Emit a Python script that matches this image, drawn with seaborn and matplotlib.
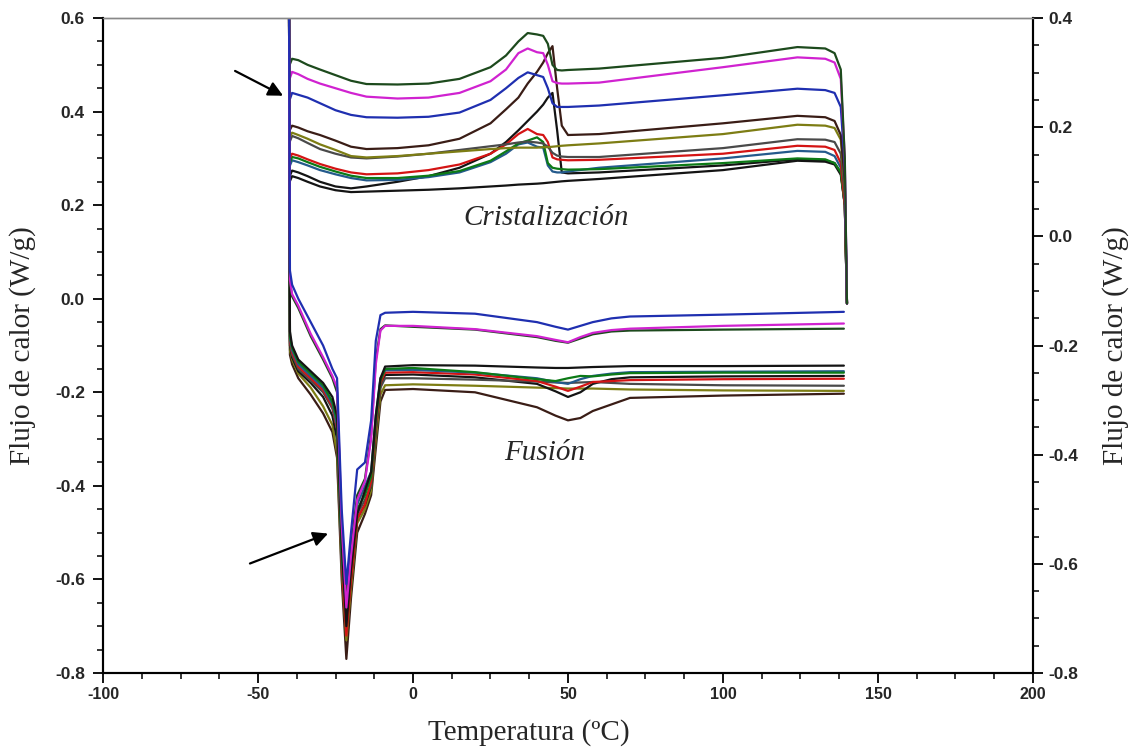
import matplotlib
matplotlib.use("Agg")
import matplotlib.pyplot as plt
from matplotlib.ticker import MultipleLocator, FormatStrFormatter
import pandas as pd
import seaborn as sns

# ---------------- data ----------------
# Cooling (crystallization) scans: temperature grid (deg C)
temp_cryst = [-39.8, -39, -37, -34, -30, -25, -20, -15, -5, 5, 15, 25, 30, 34, 37,
              40, 42, 43.5, 45, 46.5, 48, 50, 60, 100, 124, 133, 136, 138, 139.3, 140]

cryst_dark_green = [0.50, 0.513, 0.51, 0.50, 0.49, 0.478, 0.466, 0.459, 0.458, 0.46, 0.47, 0.495, 0.52, 0.55, 0.568,
                    0.565, 0.562, 0.545, 0.50, 0.489, 0.488, 0.489, 0.492, 0.515, 0.538, 0.535, 0.525, 0.49, 0.30, -0.01]
cryst_magenta = [0.47, 0.485, 0.48, 0.47, 0.46, 0.45, 0.44, 0.432, 0.428, 0.43, 0.44, 0.465, 0.49, 0.525, 0.535,
                 0.527, 0.525, 0.50, 0.465, 0.461, 0.46, 0.46, 0.462, 0.495, 0.516, 0.513, 0.505, 0.47, 0.30, -0.01]
cryst_blue = [0.425, 0.44, 0.436, 0.43, 0.418, 0.403, 0.393, 0.388, 0.387, 0.389, 0.398, 0.425, 0.45, 0.472, 0.484,
              0.478, 0.474, 0.45, 0.418, 0.41, 0.41, 0.41, 0.413, 0.435, 0.449, 0.446, 0.44, 0.41, 0.28, -0.01]
cryst_brown = [0.36, 0.37, 0.366, 0.358, 0.35, 0.338, 0.325, 0.32, 0.322, 0.328, 0.342, 0.375, 0.405, 0.43, 0.46,
               0.485, 0.505, 0.525, 0.54, 0.45, 0.37, 0.35, 0.352, 0.375, 0.391, 0.388, 0.38, 0.35, 0.25, -0.01]
cryst_olive = [0.345, 0.355, 0.35, 0.342, 0.33, 0.318, 0.305, 0.302, 0.305, 0.31, 0.315, 0.32, 0.322, 0.323, 0.323,
               0.323, 0.324, 0.324, 0.325, 0.326, 0.327, 0.328, 0.332, 0.352, 0.372, 0.37, 0.365, 0.34, 0.24, -0.01]
cryst_gray = [0.335, 0.348, 0.343, 0.333, 0.32, 0.31, 0.302, 0.30, 0.304, 0.31, 0.318, 0.326, 0.33, 0.334, 0.336,
              0.334, 0.332, 0.325, 0.312, 0.306, 0.304, 0.303, 0.303, 0.322, 0.341, 0.34, 0.335, 0.31, 0.22, -0.01]
cryst_red = [0.30, 0.31, 0.306, 0.298, 0.288, 0.278, 0.27, 0.266, 0.268, 0.275, 0.287, 0.31, 0.33, 0.352, 0.363,
             0.352, 0.35, 0.335, 0.302, 0.298, 0.297, 0.296, 0.297, 0.31, 0.327, 0.325, 0.318, 0.29, 0.20, -0.01]
cryst_green = [0.29, 0.303, 0.30, 0.292, 0.282, 0.272, 0.263, 0.258, 0.258, 0.263, 0.273, 0.295, 0.315, 0.332, 0.338,
               0.345, 0.335, 0.29, 0.28, 0.278, 0.277, 0.276, 0.277, 0.29, 0.30, 0.298, 0.29, 0.27, 0.20, -0.01]
cryst_teal = [0.283, 0.296, 0.292, 0.285, 0.275, 0.266, 0.258, 0.253, 0.254, 0.26, 0.27, 0.292, 0.31, 0.33, 0.334,
              0.325, 0.323, 0.285, 0.272, 0.27, 0.27, 0.272, 0.28, 0.30, 0.316, 0.314, 0.305, 0.28, 0.20, -0.01]
cryst_black = [0.262, 0.274, 0.27, 0.262, 0.25, 0.24, 0.236, 0.24, 0.25, 0.262, 0.28, 0.31, 0.335, 0.36, 0.38,
               0.40, 0.415, 0.43, 0.44, 0.36, 0.27, 0.268, 0.27, 0.285, 0.298, 0.296, 0.29, 0.27, 0.20, -0.01]
cryst_black_base = [0.25, 0.262, 0.258, 0.25, 0.24, 0.232, 0.228, 0.229, 0.231, 0.233, 0.236, 0.24, 0.242, 0.244, 0.245,
                    0.246, 0.247, 0.248, 0.249, 0.25, 0.251, 0.252, 0.256, 0.275, 0.295, 0.293, 0.287, 0.265, 0.20, -0.01]

# Heating (fusion) scans: temperature grid (deg C)
temp_fusion = [-40, -39.7, -39, -37, -33, -29, -26, -24.5, -23, -21.5, -20, -18, -15.5, -13.5,
               -12, -10.5, -9, 0, 20, 40, 46, 50, 54, 58, 64, 70, 100, 139]

fus_blue = [0.65, 0.06, 0.03, 0.0, -0.05, -0.10, -0.15, -0.17, -0.45, -0.61, -0.50, -0.365, -0.35, -0.26,
            -0.09, -0.035, -0.03, -0.028, -0.032, -0.05, -0.06, -0.066, -0.058, -0.05, -0.042, -0.038, -0.034, -0.028]
fus_magenta = [0.65, 0.04, 0.01, -0.015, -0.075, -0.125, -0.165, -0.19, -0.48, -0.66, -0.55, -0.43, -0.39, -0.30,
               -0.14, -0.068, -0.058, -0.058, -0.065, -0.08, -0.088, -0.093, -0.082, -0.073, -0.067, -0.064, -0.058, -0.053]
fus_dark_green = [0.65, 0.035, 0.005, -0.02, -0.08, -0.13, -0.17, -0.20, -0.50, -0.64, -0.53, -0.42, -0.385, -0.29,
                  -0.13, -0.065, -0.057, -0.06, -0.066, -0.082, -0.09, -0.094, -0.085, -0.076, -0.07, -0.068, -0.066, -0.064]
fus_black = [0.65, -0.07, -0.10, -0.13, -0.155, -0.18, -0.21, -0.25, -0.52, -0.70, -0.58, -0.46, -0.41, -0.37,
             -0.25, -0.17, -0.145, -0.142, -0.143, -0.147, -0.148, -0.148, -0.147, -0.146, -0.145, -0.144, -0.144, -0.143]
fus_green = [0.65, -0.08, -0.105, -0.135, -0.16, -0.185, -0.22, -0.26, -0.54, -0.68, -0.57, -0.45, -0.42, -0.38,
             -0.26, -0.175, -0.15, -0.148, -0.157, -0.172, -0.176, -0.17, -0.165, -0.166, -0.162, -0.159, -0.158, -0.158]
fus_teal = [0.65, -0.085, -0.11, -0.14, -0.165, -0.19, -0.225, -0.27, -0.55, -0.67, -0.56, -0.44, -0.40, -0.37,
            -0.25, -0.17, -0.153, -0.152, -0.158, -0.17, -0.178, -0.182, -0.172, -0.165, -0.16, -0.157, -0.156, -0.155]
fus_red = [0.65, -0.09, -0.115, -0.145, -0.17, -0.195, -0.23, -0.275, -0.56, -0.72, -0.60, -0.47, -0.44, -0.39,
           -0.27, -0.18, -0.158, -0.157, -0.162, -0.176, -0.188, -0.197, -0.188, -0.178, -0.176, -0.174, -0.172, -0.171]
fus_gray = [0.65, -0.095, -0.12, -0.15, -0.175, -0.20, -0.235, -0.28, -0.57, -0.70, -0.59, -0.46, -0.43, -0.40,
            -0.28, -0.19, -0.17, -0.17, -0.173, -0.177, -0.179, -0.18, -0.179, -0.178, -0.18, -0.182, -0.185, -0.186]
fus_olive = [0.65, -0.11, -0.13, -0.16, -0.19, -0.23, -0.27, -0.33, -0.58, -0.73, -0.62, -0.48, -0.45, -0.41,
             -0.30, -0.205, -0.185, -0.183, -0.186, -0.19, -0.191, -0.192, -0.192, -0.192, -0.193, -0.194, -0.196, -0.197]
fus_black_dip = [0.65, -0.10, -0.125, -0.155, -0.18, -0.21, -0.25, -0.30, -0.56, -0.71, -0.60, -0.47, -0.44, -0.40,
                 -0.28, -0.185, -0.163, -0.162, -0.168, -0.182, -0.198, -0.21, -0.20, -0.182, -0.172, -0.168, -0.166, -0.165]
fus_brown = [0.65, -0.12, -0.14, -0.17, -0.205, -0.245, -0.285, -0.34, -0.60, -0.77, -0.64, -0.50, -0.46, -0.42,
             -0.32, -0.22, -0.195, -0.193, -0.20, -0.232, -0.25, -0.26, -0.255, -0.24, -0.226, -0.212, -0.207, -0.203]

x_ticks = [-100, -50, 0, 50, 100, 150, 200]

# ---------------- styling ----------------
sns.set_style("ticks")
plt.rcParams["axes.unicode_minus"] = False
plt.rcParams["font.family"] = ["Liberation Sans", "DejaVu Sans"]

colors = {
    "dark_green": "#1d4a1d", "magenta": "#d022d0", "blue": "#1f2fb0", "brown": "#3a1d16",
    "olive": "#7d7d14", "gray": "#4a4a4a", "red": "#d41414", "green": "#0c7a16",
    "teal": "#245a8c", "black": "#141414",
}

cryst = [
    (cryst_black_base, "black"), (cryst_black, "black"), (cryst_teal, "teal"), (cryst_green, "green"),
    (cryst_red, "red"), (cryst_gray, "gray"), (cryst_olive, "olive"), (cryst_brown, "brown"),
    (cryst_blue, "blue"), (cryst_magenta, "magenta"), (cryst_dark_green, "dark_green"),
]
fusion = [
    (fus_brown, "brown"), (fus_olive, "olive"), (fus_black_dip, "black"), (fus_gray, "gray"),
    (fus_red, "red"), (fus_teal, "teal"), (fus_green, "green"), (fus_black, "black"),
    (fus_dark_green, "dark_green"), (fus_magenta, "magenta"), (fus_blue, "blue"),
]

fig = plt.figure(figsize=(11.37, 7.53), dpi=100)
ax = fig.add_axes([0.0906, 0.1063, 0.8179, 0.8697])

for vals, cname in cryst:
    df = pd.DataFrame({"T": temp_cryst, "Q": vals})
    sns.lineplot(data=df, x="T", y="Q", ax=ax, color=colors[cname], lw=1.6,
                 sort=False, estimator=None)
for vals, cname in fusion:
    df = pd.DataFrame({"T": temp_fusion, "Q": vals})
    sns.lineplot(data=df, x="T", y="Q", ax=ax, color=colors[cname], lw=1.6,
                 sort=False, estimator=None)

ax.set_xlim(-100, 200)
ax.set_ylim(-0.8, 0.6)
ax.set_xticks(x_ticks)
ax.xaxis.set_minor_locator(MultipleLocator(12.5))
ax.yaxis.set_major_locator(MultipleLocator(0.2))
ax.yaxis.set_minor_locator(MultipleLocator(0.05))
ax.yaxis.set_major_formatter(FormatStrFormatter("%.1f"))

xtick_font = dict(family="Liberation Sans", weight="bold", size=11.5)
ytick_font = dict(family="Liberation Sans", weight="bold", size=12.5)
for lab in ax.get_xticklabels():
    lab.set_fontproperties(xtick_font)
for lab in ax.get_yticklabels():
    lab.set_fontproperties(ytick_font)

ax.tick_params(which="major", direction="out", length=7, width=1.3, color="black")
ax.tick_params(axis="y", which="major", pad=6)
ax.tick_params(axis="x", which="major", pad=3)
ax.tick_params(which="minor", direction="out", length=4, width=1.1, color="black")

for s in ["left", "bottom", "right"]:
    ax.spines[s].set_color("black")
    ax.spines[s].set_linewidth(1.5)
ax.spines["top"].set_color("#888888")
ax.spines["top"].set_linewidth(1.0)

label_font = dict(family="Liberation Serif", size=21)
ax.set_xlabel("Temperatura (ºC)", fontdict=dict(family="Liberation Serif", size=21))
ax.xaxis.set_label_coords(0.458, -0.071)
ax.set_ylabel("Flujo de calor (W/g)", fontdict=label_font, labelpad=14)

ax2 = ax.twinx()
ax2.set_ylim(-0.8, 0.4)
ax2.yaxis.set_major_locator(MultipleLocator(0.2))
ax2.yaxis.set_minor_locator(MultipleLocator(0.05))
ax2.yaxis.set_major_formatter(FormatStrFormatter("%.1f"))
for lab in ax2.get_yticklabels():
    lab.set_fontproperties(ytick_font)
ax2.tick_params(which="major", direction="out", length=7, width=1.3, color="black", pad=4)
ax2.tick_params(which="minor", direction="out", length=4, width=1.1, color="black")
ax2.set_ylabel("Flujo de calor (W/g)", fontdict=label_font, rotation=90, labelpad=17)
for s in ["left", "bottom", "right"]:
    ax2.spines[s].set_color("black")
    ax2.spines[s].set_linewidth(1.5)
ax2.spines["top"].set_color("#888888")
ax2.spines["top"].set_linewidth(1.0)

# annotations
ax.text(43, 0.173, "Cristalización", fontdict=dict(family="Liberation Serif", size=21, style="italic"),
        ha="center", va="center")
ax.text(42.6, -0.329, "Fusión", fontdict=dict(family="Liberation Serif", size=21, style="italic"),
        ha="center", va="center")
arrow = dict(arrowstyle="-|>", color="black", lw=1.6, mutation_scale=22, shrinkA=0, shrinkB=0)
ax.annotate("", xy=(-41.9, 0.434), xytext=(-57.4, 0.487), arrowprops=arrow)
ax.annotate("", xy=(-27.4, -0.502), xytext=(-52.6, -0.566), arrowprops=arrow)

fig.savefig("out.png", dpi=100)
